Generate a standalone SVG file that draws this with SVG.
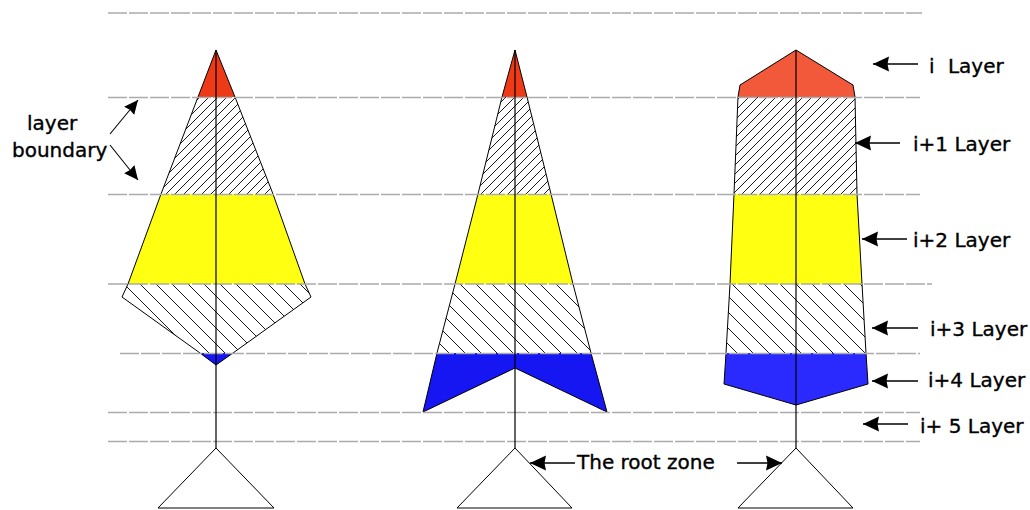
<svg xmlns="http://www.w3.org/2000/svg" width="1030" height="510" viewBox="0 0 1030 510">
  <style>
    .lbl { font-family: "DejaVu Sans", "Liberation Sans", sans-serif; font-size: 20px; fill: #000; stroke: #000; stroke-width: 0.35; }
    .layerline { stroke: #ababab; stroke-width: 1.5; stroke-dasharray: 19 2; fill: none; }
    .outline { fill: none; stroke: #000; stroke-width: 1; stroke-linejoin: round; }
    .axis { stroke: #000; stroke-width: 1.2; }
    .root { fill: #fff; stroke: #000; stroke-width: 1; }
    .arrow { stroke: #000; stroke-width: 1.3; fill: none; marker-end: url(#ah); }
    .arrow-s { stroke: #000; stroke-width: 1.1; fill: none; marker-end: url(#ahs); }
    .red { fill: #ee3a16; }
    .red2 { fill: #f2583a; }
    .yel { fill: #ffff12; }
    .blue { fill: #1616f2; }
    .blue2 { fill: #2a2aff; }
    .h1 { fill: url(#hatchA); }
    .h2 { fill: url(#hatchB); }
  </style>
  <defs>
    <pattern id="hatchA" patternUnits="userSpaceOnUse" width="9" height="9">
      <rect width="9" height="9" fill="#fff"/>
      <path d="M0,9 L9,0 M-3,3 L3,-3 M6,12 L12,6" stroke="#000" stroke-width="0.9"/>
    </pattern>
    <pattern id="hatchB" patternUnits="userSpaceOnUse" width="16" height="16">
      <rect width="16" height="16" fill="#fff"/>
      <path d="M0,0 L16,16 M-4,12 L4,20 M12,-4 L20,4" stroke="#000" stroke-width="0.9"/>
    </pattern>
    <marker id="ah" markerUnits="userSpaceOnUse" viewBox="0 0 16 16" markerWidth="16" markerHeight="16" refX="16" refY="8" orient="auto">
      <path d="M0,0.5 L16,8 L0,15.5 L1.5,8 z" fill="#000"/>
    </marker>
    <marker id="ahs" markerUnits="userSpaceOnUse" viewBox="0 0 16 16" markerWidth="14" markerHeight="14" refX="16" refY="8" orient="auto">
      <path d="M0,0.5 L16,8 L0,15.5 L1.5,8 z" fill="#000"/>
    </marker>
  </defs>
  <rect width="1030" height="510" fill="#fff"/>

  <g id="plant-left">
    <polygon class="red" points="216,50 235,97 198,97"/>
    <polygon class="h1" points="198,97 235,97 273,194 161,194"/>
    <polygon class="yel" points="161,194 273,194 305,284 128,284"/>
    <polygon class="h2" points="128,284 305,284 311,297 233,353 200,353 122,297"/>
    <polygon class="blue" points="200,353 233,353 216,365"/>
    <polygon class="outline" points="216,50 235,97 273,194 305,284 311,297 233,353 216,365 200,353 122,297 128,284 161,194 198,97"/>
  </g>

  <g id="plant-middle">
    <polygon class="red" points="515,50 527,97 502,97"/>
    <polygon class="h1" points="502,97 527,97 551,194 478,194"/>
    <polygon class="yel" points="478,194 551,194 573,284 455,284"/>
    <polygon class="h2" points="455,284 573,284 591,353 437,353"/>
    <polygon class="blue" points="437,353 591,353 607,412 515,368 423,412"/>
    <polygon class="outline" points="515,50 527,97 551,194 573,284 591,353 607,412 515,368 423,412 437,353 455,284 478,194 502,97"/>
  </g>

  <g id="plant-right">
    <polygon class="red2" points="796,50 853,85 855,97 738,97 740,85"/>
    <polygon class="h1" points="738,97 855,97 857,194 734,194"/>
    <polygon class="yel" points="734,194 857,194 862,284 730,284"/>
    <polygon class="h2" points="730,284 862,284 866,353 726,353"/>
    <polygon class="blue2" points="726,353 866,353 868,384 796,405 724,384"/>
    <polygon class="outline" points="796,50 853,85 855,97 857,194 862,284 866,353 868,384 796,405 724,384 726,353 730,284 734,194 738,97 740,85"/>
  </g>

  <g id="layer-lines">
    <line class="layerline" x1="108" y1="13" x2="922" y2="13"/>
    <line class="layerline" x1="108" y1="97.5" x2="920" y2="97.5"/>
    <line class="layerline" x1="108" y1="194.5" x2="920" y2="194.5"/>
    <line class="layerline" x1="108" y1="284" x2="932" y2="284"/>
    <line class="layerline" x1="120" y1="353.5" x2="920" y2="353.5"/>
    <line class="layerline" x1="108" y1="412.5" x2="920" y2="412.5"/>
    <line class="layerline" x1="108" y1="441.5" x2="920" y2="441.5"/>
  </g>

  <g id="root-left">
    <line class="axis" x1="216" y1="50" x2="216" y2="448"/>
    <polygon class="root" points="216,448 274,508 158,508"/>
  </g>
  <g id="root-middle">
    <line class="axis" x1="515" y1="50" x2="515" y2="448"/>
    <polygon class="root" points="515,448 572,508 457,508"/>
  </g>
  <g id="root-right">
    <line class="axis" x1="796" y1="50" x2="796" y2="448"/>
    <polygon class="root" points="796,448 853,508 738,508"/>
  </g>

  <g id="connectors">
    <line class="arrow-s" x1="110" y1="134" x2="138" y2="100"/>
    <line class="arrow-s" x1="110" y1="145" x2="138" y2="180"/>
    <line class="arrow" x1="918" y1="64" x2="873" y2="64"/>
    <line class="arrow" x1="900" y1="143" x2="855" y2="143"/>
    <line class="arrow" x1="907" y1="239" x2="862" y2="239"/>
    <line class="arrow" x1="918" y1="328" x2="872" y2="328"/>
    <line class="arrow" x1="918" y1="381" x2="872" y2="381"/>
    <line class="arrow" x1="908" y1="424" x2="863" y2="424"/>
    <line class="arrow" x1="575" y1="463" x2="530" y2="463"/>
    <line class="arrow" x1="737" y1="463" x2="782" y2="463"/>
  </g>

  <g id="labels">
    <text class="lbl" x="27" y="130">layer</text>
    <text class="lbl" x="12" y="157">boundary</text>
    <text class="lbl" x="929" y="73">i <tspan dx="7">Layer</tspan></text>
    <text class="lbl" x="913" y="151">i+1 Layer</text>
    <text class="lbl" x="913" y="247">i+2 Layer</text>
    <text class="lbl" x="930" y="336">i+3 Layer</text>
    <text class="lbl" x="928" y="387">i+4 Layer</text>
    <text class="lbl" x="920" y="433">i+ 5 Layer</text>
    <text class="lbl" x="577" y="469">The root zone</text>
  </g>
</svg>
